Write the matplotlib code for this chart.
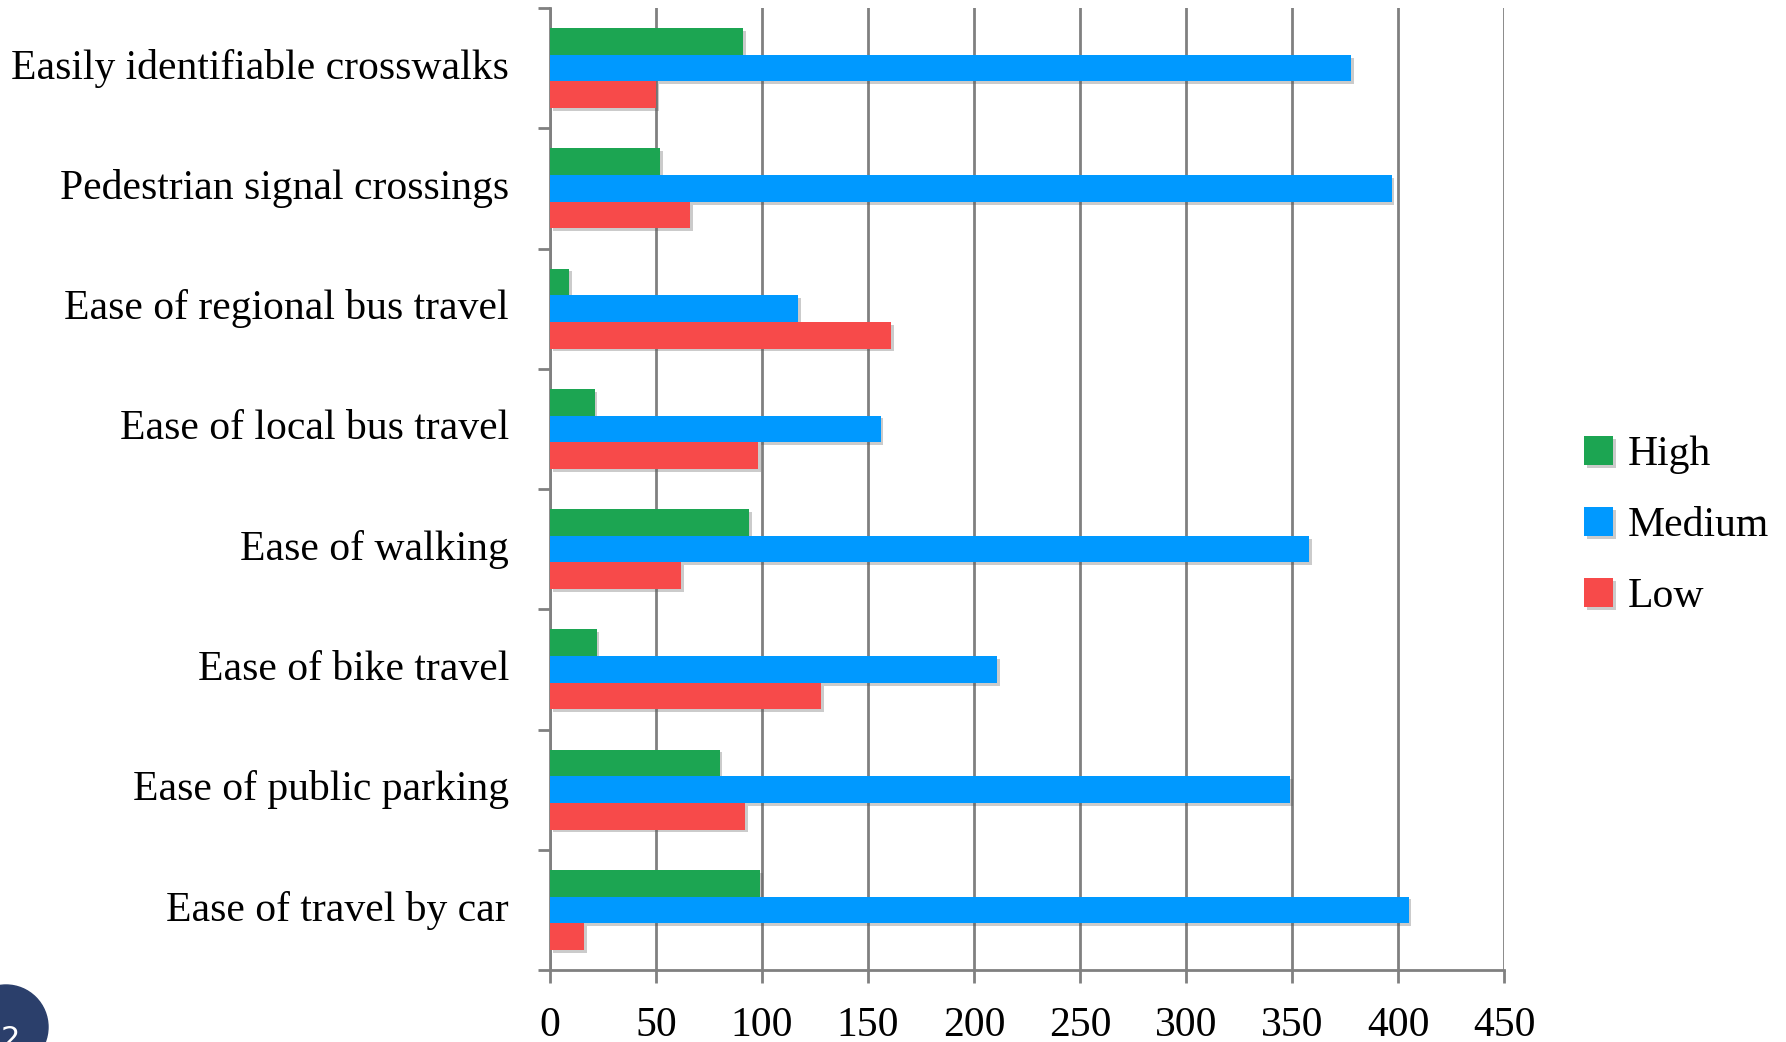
import numpy as np
import matplotlib
matplotlib.use("Agg")
import matplotlib.pyplot as plt
import matplotlib.patheffects as pe
import matplotlib.transforms as mtransforms
from matplotlib.patches import Ellipse

categories = [
    "Easily identifiable crosswalks",
    "Pedestrian signal crossings",
    "Ease of regional bus travel",
    "Ease of local bus travel",
    "Ease of walking",
    "Ease of bike travel",
    "Ease of public parking",
    "Ease of travel by car",
]
high = [91, 52, 9, 21, 94, 22, 80, 99]
medium = [378, 397, 117, 156, 358, 211, 349, 405]
low = [50, 66, 161, 98, 62, 128, 92, 16]

series_names = ["High", "Medium", "Low"]
colors = ["#1ca552", "#0099ff", "#f74a4a"]
xticks = [0, 50, 100, 150, 200, 250, 300, 350, 400, 450]

plt.rcParams['font.family'] = ['Liberation Serif', 'DejaVu Serif']

fig = plt.figure(figsize=(17.86, 10.42), dpi=100)
ax = fig.add_axes([550 / 1786, 1 - 970 / 1042, 954 / 1786, 962 / 1042])

y = np.arange(len(categories))
bh = 0.222
shadow = [pe.SimplePatchShadow(offset=(2, -2), shadow_rgbFace='#555555', alpha=0.3), pe.Normal()]
for i, (vals, name, c) in enumerate(zip([high, medium, low], series_names, colors)):
    bars = ax.barh(y + (i - 1) * bh, vals, height=bh, color=c, label=name, zorder=3)
    for b in bars:
        b.set_path_effects(shadow)

ax.set_xlim(0, 450)
ax.set_ylim(len(categories) - 0.5, -0.5)
ax.set_xticks(xticks)
ax.set_xticklabels([str(t) for t in xticks], fontsize=30)
ax.set_yticks(y)
ax.set_yticklabels(categories, fontsize=30)
ax.set_yticks(np.arange(len(categories) + 1) - 0.5, minor=True)

ax.tick_params(axis='y', which='major', length=0, pad=29.5)
ax.tick_params(axis='y', which='minor', length=9, width=2, color='#808080', direction='out')
ax.tick_params(axis='x', length=9, width=2, color='#808080', pad=17)

# labels sit a touch above the group centre
up = mtransforms.ScaledTranslation(0, 3 / 72, fig.dpi_scale_trans)
for lab in ax.get_yticklabels():
    lab.set_transform(lab.get_transform() + up)

ax.grid(axis='x', color='#808080', linewidth=2, zorder=0)
for s in ['top', 'right']:
    ax.spines[s].set_visible(False)
for s in ['left', 'bottom']:
    ax.spines[s].set_color('#808080')
    ax.spines[s].set_linewidth(2)

fig.legend(loc='center left', bbox_to_anchor=(1584 / 1786, 0.495), frameon=False,
           fontsize=30, handlelength=0.7, handleheight=0.7, handletextpad=0.35,
           labelspacing=0.78, borderpad=0, borderaxespad=0)

# slide number badge
fig.add_artist(Ellipse((6 / 1786, 1 - 1027 / 1042), 84 / 1786, 84 / 1042,
                       transform=fig.transFigure, color='#2b3f6b', clip_on=False))
fig.text(10 / 1786, 1 - 1040 / 1042, "2", color='white', fontsize=22,
         family='DejaVu Sans', ha='center', va='center')

fig.savefig("out.png", dpi=100)
